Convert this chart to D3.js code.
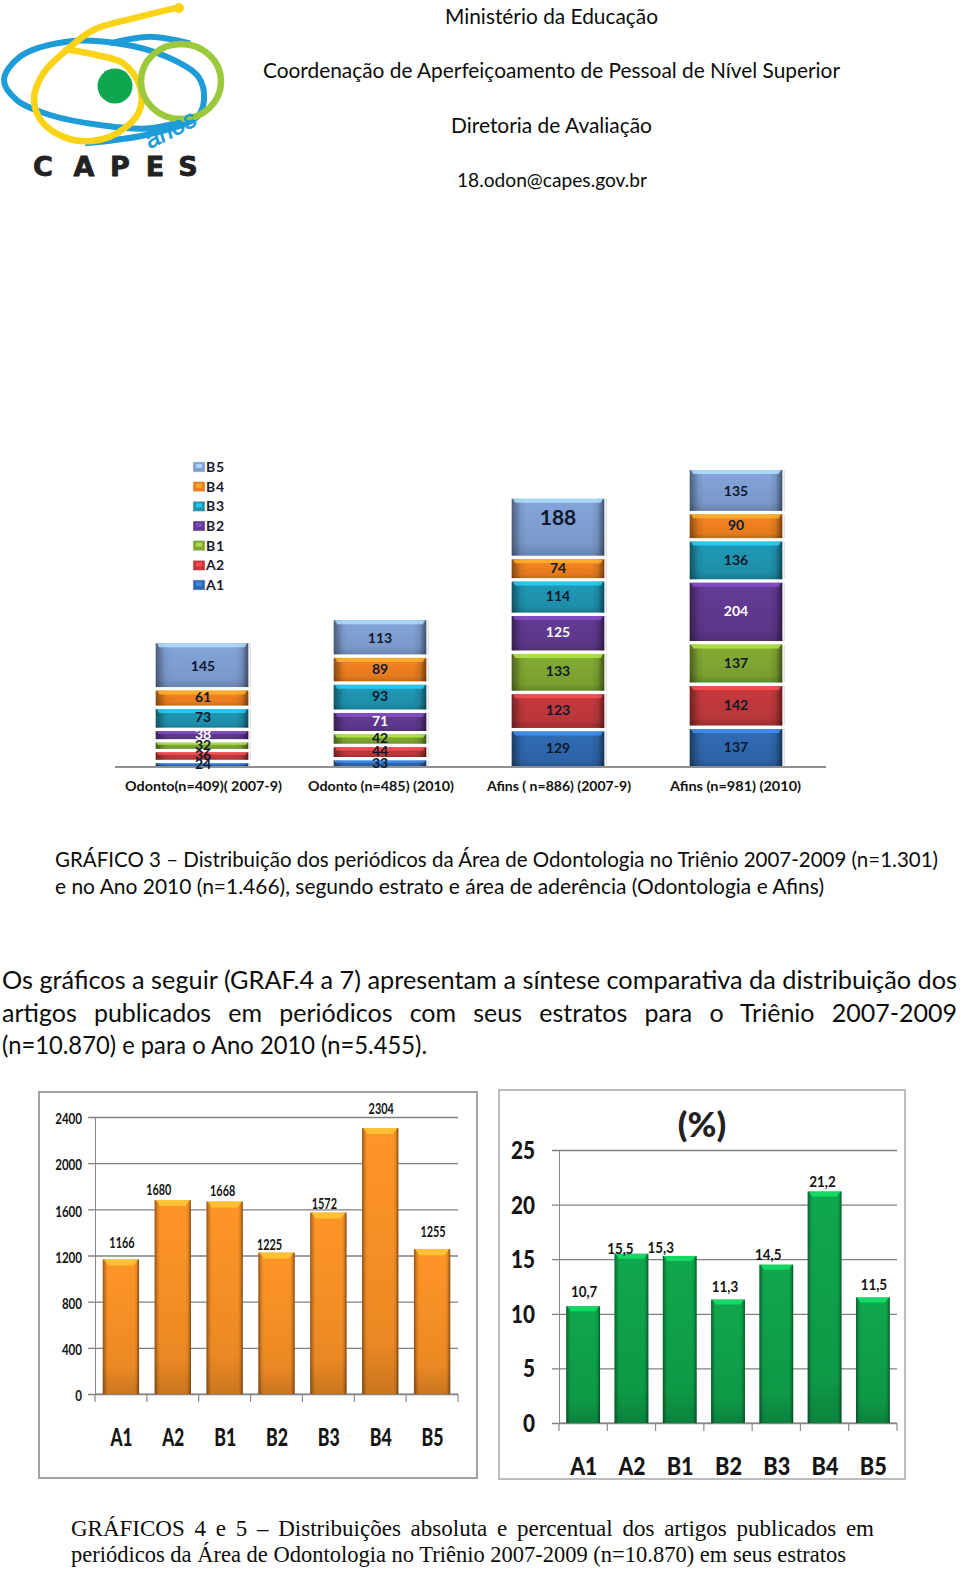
<!DOCTYPE html>
<html><head><meta charset="utf-8">
<script src="https://cdn.jsdelivr.net/npm/d3@7"></script>
<style>html,body{margin:0;padding:0;background:#fff}svg{display:block}text{font-family:Lato,"Open Sans",sans-serif}</style>
</head><body><svg id="c" width="960" height="1569"></svg>
<script>
// ---- data ----
const strata = ["A1","A2","B1","B2","B3","B4","B5"];
const stackCategories = ["Odonto(n=409)( 2007-9)","Odonto (n=485) (2010)","Afins ( n=886) (2007-9)","Afins (n=981) (2010)"];
const odonto0709 = [24,36,32,38,73,61,145];
const odonto2010 = [33,44,42,71,93,89,113];
const afins0709  = [129,123,133,125,114,74,188];
const afins2010  = [137,142,137,204,136,90,135];
const articleCounts = [1166,1680,1668,1225,1572,2304,1255];
const articlePercents = [10.7,15.5,15.3,11.3,14.5,21.2,11.5];
const countTicks = [0,400,800,1200,1600,2000,2400];
const percentTicks = [0,5,10,15,20,25];
const stackColors = ["#2f67ad","#c0383b","#7fa632","#60398f","#1f94b0","#ee7f20","#7f9fd2"];
// hand-placed label offsets of the original, separate from the values
const countNudge = [[1,-17],[-14,-10],[-2,-11],[-7,-8],[-4,-9],[1,-19],[1,-17]];
const percentNudge = [[1,-14],[-11,-5],[-19,-8],[-3,-13],[-8,-10],[-2,-10],[1,-13]];

const svg = d3.select("#c"), defs = svg.append("defs");
const stackRows = [odonto0709,odonto2010,afins0709,afins2010];

// shared soft-edge overlays
const sideShade=defs.append("linearGradient").attr("id","sideShade");
[[0,.42],[.1,.06],[.16,0],[.86,0],[.93,.1],[1,.5]].forEach(([o,a])=>sideShade.append("stop").attr("offset",o).attr("stop-color","#000").attr("stop-opacity",a));

function fit(sel,x0,x1,opts={}){
  sel.attr("x",x0).attr("text-anchor","start");
  const n = sel.node().getComputedTextLength();
  const t = sel.text();
  if(opts.justify){ const gaps=(t.match(/ /g)||[]).length; sel.attr("word-spacing",(x1-x0-n)/gaps); }
  else sel.attr("textLength",x1-x0).attr("lengthAdjust","spacingAndGlyphs");
  return sel;
}
function line(t,x0,x1,y,size,opts={}){
  const s = svg.append("text").text(t).attr("y",y).attr("dy","0.35em").attr("font-size",size)
    .attr("fill",opts.fill||"#0c0c0c");
  if(opts.font) s.style("font-family",opts.font);
  return fit(s,x0,x1,opts);
}
function gradFor(c,id){
  const g=defs.append("linearGradient").attr("id",id).attr("x1",0).attr("x2",0).attr("y1",0).attr("y2",1);
  g.append("stop").attr("offset",0).attr("stop-color",d3.color(c).brighter(.12));
  g.append("stop").attr("offset",.8).attr("stop-color",d3.color(c).darker(.12));
  g.append("stop").attr("offset",1).attr("stop-color",d3.color(c).darker(.55));
}
function bevel(g,x,y,w,h,color,id,e){
  e=Math.min(e,h/3);
  g.append("rect").attr("x",x).attr("y",y).attr("width",w).attr("height",h).attr("fill",`url(#${id})`);
  g.append("rect").attr("x",x).attr("y",y).attr("width",w).attr("height",h).attr("fill","url(#sideShade)");
  const s=e*0.9;
  g.append("polygon").attr("points",[[x+1,y],[x+w-1,y],[x+w-s,y+e],[x+s,y+e]].map(p=>p.join(",")).join(" "))
    .attr("fill",d3.color(color).brighter(1.0)).attr("opacity",.8);
}

// ---- logo ----
const curve=d3.line().curve(d3.curveCatmullRom.alpha(.5)).x(d=>d[0]/3).y(d=>d[1]/3);
const logoBlueA=[[255,430],[450,402],[590,352],[612,300],[595,230],[500,170],[350,130],[200,125],[60,170],[12,240],[50,300],[150,345],[300,375],[450,385],[590,350]];
const logoBlueB=[[330,130],[450,110],[570,130]];
const logoYellow=[[537,22],[400,55],[280,90],[200,150],[130,220],[102,300],[130,370],[220,420],[330,410],[415,340],[420,260],[370,190],[290,165],[210,150]];
const logo=svg.append("g");
[logoBlueA,logoBlueB].forEach(p=>logo.append("path").attr("d",curve(p)).attr("fill","none").attr("stroke","#1e9cd7").attr("stroke-width",6));
logo.append("path").attr("d",curve(logoYellow)).attr("fill","none").attr("stroke","#fbd316").attr("stroke-width",6.5).attr("stroke-linecap","round");
logo.append("ellipse").attr("cx",181).attr("cy",81.5).attr("rx",40).attr("ry",37.5).attr("fill","none").attr("stroke","#9cc93b").attr("stroke-width",6.5);
logo.append("circle").attr("cx",115).attr("cy",86).attr("r",17.5).attr("fill","#0fa650");
logo.append("circle").attr("cx",179).attr("cy",8).attr("r",5).attr("fill","#fbd316");
logo.append("text").text("anos").attr("transform","translate(150,149) rotate(-27)").attr("font-size",25).attr("font-style","italic").attr("fill","#1e9cd7").attr("stroke","#1e9cd7").attr("stroke-width",.7).style("font-family","'Liberation Sans'");
[["C",43],["A",84],["P",120],["E",155],["S",188]].forEach(([t,x])=>logo.append("text").text(t).attr("x",x).attr("y",175.5).attr("text-anchor","middle").attr("font-size",27).attr("font-weight",900).attr("fill","#222").style("font-family","'DejaVu Sans'").attr("stroke","#222").attr("stroke-width",.8));

// ---- header ----
line("Ministério da Educação",445,658,17,21);
line("Coordenação de Aperfeiçoamento de Pessoal de Nível Superior",263,840,71,21);
line("Diretoria de Avaliação",451,652,126,21);
line("18.odon@capes.gov.br",457,647,180,19);

// ---- stacked chart ----
const sx=d3.scaleBand().domain(stackCategories).range([113,825]).paddingInner(.48).paddingOuter(.24);
const sy=d3.scaleLinear().domain([0,981]).range([767,470]);
const table=stackCategories.map((c,i)=>{const o={cat:c};strata.forEach((s,j)=>o[s]=stackRows[i][j]);return o;});
const layers=d3.stack().keys(strata)(table);
strata.forEach((s,i)=>gradFor(stackColors[i],"st"+i));
const sg=svg.append("g");
layers.forEach((layer,li)=>{
  layer.forEach(d=>{
    const g=sg.append("g");
    const top=sy(d[1])+(li<strata.length-1?3.5:0), bot=sy(d[0]);
    const x=sx(d.data.cat), w=sx.bandwidth();
    g.append("line").attr("x1",x+w+2).attr("x2",x+w+2).attr("y1",top).attr("y2",bot).attr("stroke","#e2e2e2").attr("stroke-width",1.5);
    bevel(g,x,top,w,bot-top,stackColors[li],"st"+li,4);
  });
});
svg.append("line").attr("x1",115).attr("x2",826).attr("y1",sy(0)).attr("y2",sy(0)).attr("stroke","#8f8f8f").attr("stroke-width",2);
const sLabels=svg.append("g");
layers.forEach((layer,li)=>{
  const v=d=>d[1]-d[0];
  sLabels.selectAll(null).data(layer).join("text")
    .attr("x",d=>sx(d.data.cat)+sx.bandwidth()/2+(d.data.cat===stackCategories[0]?1:0))
    .attr("y",d=>(sy(d[0])+sy(d[1]))/2+(v(d)===188?-10:1))
    .attr("dy","0.35em").attr("text-anchor","middle").attr("font-weight",700)
    .attr("font-size",d=>v(d)===188?21:14)
    .attr("fill",li===3?"#fff":"#10182c")
    .text(v);
});
const sAxis=svg.append("g").attr("transform","translate(0,767)").call(d3.axisBottom(sx).tickSize(0).tickPadding(14));
sAxis.select(".domain").remove();
const spans=[[125,282],[308,454],[487,631],[670,801]];
sAxis.selectAll(".tick text").each(function(d,i){
  const t=d3.select(this).attr("font-size",14).attr("font-weight",700).attr("fill","#111").style("font-family","Lato");
  const tr=sx(d)+sx.bandwidth()/2;
  fit(t,spans[i][0]-tr,spans[i][1]-tr);
});
// legend
const ly=d3.scalePoint().domain(strata.slice().reverse()).range([467,585]);
const lg=svg.append("g");
strata.forEach((s,i)=>{
  const y=ly(s);
  lg.append("rect").attr("x",193).attr("y",y-5).attr("width",12).attr("height",10).attr("fill",stackColors[i]).attr("stroke","#ddd").attr("stroke-width",.5);
  lg.append("rect").attr("x",196).attr("y",y-3).attr("width",6).attr("height",4).attr("fill",d3.color(stackColors[i]).brighter(.8));
  lg.append("text").text(s[0]+" "+s[1]).attr("x",206).attr("y",y).attr("dy","0.35em").attr("font-size",14).attr("font-weight",700).attr("fill","#1b1b2c").attr("textLength",18).attr("lengthAdjust","spacing");
});

// ---- captions ----
line("GRÁFICO 3 – Distribuição dos periódicos da Área de Odontologia no Triênio 2007-2009 (n=1.301)",55,938,860,21);
line("e no Ano 2010 (n=1.466), segundo estrato e área de aderência (Odontologia e Afins)",55,824,887,21);
line("Os gráficos a seguir (GRAF.4 a 7) apresentam a síntese comparativa da distribuição dos",2,957,980,25);
line("artigos publicados em periódicos com seus estratos para o Triênio 2007-2009",2,957,1013,25,{justify:true});
line("(n=10.870) e para o Ano 2010 (n=5.455).",2,427,1045,25);
line("GRÁFICOS 4 e 5 – Distribuições absoluta e percentual dos artigos publicados em",71,874,1528,23,{justify:true,font:"'Liberation Serif'"});
line("periódicos da Área de Odontologia no Triênio 2007-2009 (n=10.870) em seus estratos",71,846,1554,23,{font:"'Liberation Serif'"});

// ---- simple bar charts ----
function barChart(o){
  const f=o.frame;
  svg.append("rect").attr("x",f[0]).attr("y",f[1]).attr("width",f[2]-f[0]).attr("height",f[3]-f[1]).attr("fill","#fff").attr("stroke",o.frameColor).attr("stroke-width",2);
  const x=d3.scaleBand().domain(strata).range([o.x0,o.x1]).paddingInner(.3).paddingOuter(.15);
  const y=d3.scaleLinear().domain(o.domain).range([o.y0,o.y1]);
  const ya=svg.append("g").attr("transform",`translate(${o.x0},0)`)
    .call(d3.axisLeft(y).tickValues(o.ticks).tickSize(7).tickPadding(o.pad).tickFormat(d3.format("d")));
  ya.select(".domain").attr("stroke","#8a8a8a");
  ya.selectAll(".tick line").attr("x2",o.x1-o.x0).attr("x1",-7).attr("stroke","#808080").attr("stroke-width",1.3);
  ya.selectAll(".tick text").attr("font-size",o.tickSize).attr("font-weight",o.tickWeight).attr("fill","#151515").attr("dy",o.tickDy).style("font-family","Lato")
    .each(function(){const t=d3.select(this);t.attr("textLength",t.text().length*o.tickCharW).attr("lengthAdjust","spacingAndGlyphs");});
  const xa=svg.append("g").attr("transform",`translate(0,${o.y0})`)
    .call(d3.axisBottom(d3.scalePoint().domain(strata).range([x(strata[0])+x.bandwidth()/2,x(strata[6])+x.bandwidth()/2])).tickSize(0).tickPadding(o.catPad));
  xa.select(".domain").remove();
  xa.selectAll(".tick text").attr("font-size",o.catSize).attr("font-weight",900).attr("fill","#151515").style("font-family","Lato")
    .attr("textLength",o.catW).attr("lengthAdjust","spacingAndGlyphs");
  const step=(o.x1-o.x0)/7;
  const tg=svg.append("g").attr("stroke","#8a8a8a").attr("stroke-width",1.2);
  d3.range(8).forEach(i=>tg.append("line").attr("x1",o.x0+i*step).attr("x2",o.x0+i*step).attr("y1",o.y0).attr("y2",o.y0+8));
  tg.append("line").attr("x1",o.x0).attr("x2",o.x1).attr("y1",o.y0).attr("y2",o.y0);
  gradFor(o.color,o.id);
  const bars=svg.append("g");
  strata.forEach((s,i)=>bevel(bars,x(s),y(o.values[i]),x.bandwidth(),o.y0-y(o.values[i]),o.color,o.id,o.bevel));
  svg.append("g").selectAll("text").data(o.values).join("text")
    .attr("x",(d,i)=>x(strata[i])+x.bandwidth()/2+o.nudge[i][0])
    .attr("y",(d,i)=>y(d)+o.nudge[i][1]).attr("dy","0.35em").attr("text-anchor","middle")
    .attr("font-size",o.valSize).attr("font-weight",700).attr("fill","#151515")
    .text(o.fmt)
    .each(function(){const t=d3.select(this);t.attr("textLength",t.text().length*o.valCharW).attr("lengthAdjust","spacingAndGlyphs");});
}
barChart({frame:[39,1092,477,1478],frameColor:"#a3a3a3",x0:95,x1:458,y0:1394,y1:1117,domain:[0,2400],ticks:countTicks,values:articleCounts,
  color:"#f68f26",id:"org",bevel:6,nudge:countNudge,fmt:d=>d,pad:6,tickSize:15,tickWeight:700,tickDy:"0.45em",tickCharW:6.7,catPad:34,catSize:25,catW:22,valSize:15,valCharW:6.3});
barChart({frame:[499,1090,905,1479],frameColor:"#bdbdbd",x0:559,x1:897,y0:1423,y1:1150,domain:[0,25],ticks:percentTicks,values:articlePercents,
  color:"#0fa04a",id:"grn",bevel:5,nudge:percentNudge,fmt:d=>String(d).replace(".",","),pad:17,tickSize:25,tickWeight:900,tickDy:"0.34em",tickCharW:12,catPad:35,catSize:24,catW:27,valSize:15,valCharW:6.6});
svg.append("text").text("(%)").attr("x",702).attr("y",1125).attr("dy","0.35em").attr("text-anchor","middle").attr("font-size",35).attr("font-weight",900).attr("fill","#222");
</script></body></html>
